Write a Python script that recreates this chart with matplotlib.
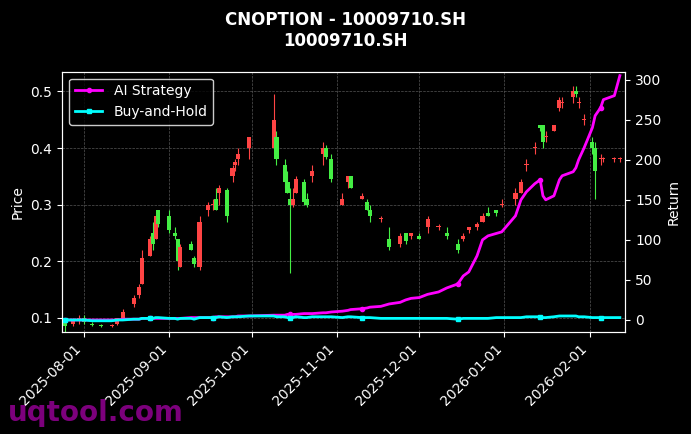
import matplotlib
matplotlib.use("Agg")
import matplotlib.pyplot as plt
import matplotlib.dates as mdates
import pandas as pd

dates = ["2025-07-25","2025-07-28","2025-07-30","2025-08-01","2025-08-04","2025-08-07","2025-08-11","2025-08-13","2025-08-15","2025-08-19","2025-08-21","2025-08-22","2025-08-25","2025-08-26","2025-08-27","2025-08-28","2025-09-01","2025-09-03","2025-09-04","2025-09-05","2025-09-09","2025-09-10","2025-09-12","2025-09-15","2025-09-17","2025-09-18","2025-09-19","2025-09-22","2025-09-24","2025-09-25","2025-09-26","2025-09-30","2025-10-09","2025-10-10","2025-10-13","2025-10-14","2025-10-15","2025-10-16","2025-10-17","2025-10-20","2025-10-21","2025-10-23","2025-10-27","2025-10-28","2025-10-30","2025-11-03","2025-11-05","2025-11-06","2025-11-10","2025-11-12","2025-11-13","2025-11-17","2025-11-20","2025-11-24","2025-11-26","2025-11-28","2025-12-01","2025-12-04","2025-12-08","2025-12-11","2025-12-15","2025-12-17","2025-12-19","2025-12-22","2025-12-24","2025-12-26","2025-12-29","2025-12-31","2026-01-05","2026-01-07","2026-01-09","2026-01-12","2026-01-14","2026-01-15","2026-01-16","2026-01-19","2026-01-21","2026-01-22","2026-01-26","2026-01-27","2026-01-28","2026-01-30","2026-02-02","2026-02-03","2026-02-05","2026-02-06","2026-02-10","2026-02-12"]
opens = [0.095,0.09,0.095,0.10,0.09,0.088,0.086,0.09,0.10,0.125,0.14,0.16,0.21,0.25,0.24,0.29,0.28,0.25,0.24,0.19,0.23,0.205,0.19,0.29,0.30,0.31,0.32,0.325,0.35,0.37,0.38,0.40,0.40,0.42,0.37,0.34,0.31,0.30,0.32,0.34,0.31,0.35,0.39,0.40,0.38,0.30,0.34,0.35,0.31,0.305,0.29,0.275,0.24,0.23,0.25,0.245,0.245,0.26,0.26,0.25,0.23,0.24,0.255,0.26,0.27,0.285,0.29,0.30,0.31,0.32,0.37,0.40,0.44,0.44,0.42,0.43,0.47,0.48,0.49,0.50,0.48,0.45,0.41,0.40,0.38,0.38,0.38,0.38]
highs = [0.10,0.10,0.105,0.105,0.092,0.09,0.09,0.10,0.115,0.14,0.16,0.22,0.245,0.27,0.285,0.29,0.29,0.26,0.24,0.23,0.235,0.21,0.28,0.305,0.31,0.33,0.335,0.33,0.37,0.38,0.40,0.42,0.495,0.43,0.38,0.36,0.33,0.33,0.35,0.345,0.32,0.37,0.41,0.405,0.39,0.32,0.35,0.35,0.32,0.31,0.30,0.28,0.26,0.25,0.25,0.25,0.25,0.28,0.265,0.26,0.24,0.25,0.26,0.27,0.285,0.295,0.29,0.31,0.33,0.345,0.38,0.41,0.44,0.44,0.43,0.44,0.49,0.49,0.51,0.51,0.49,0.46,0.42,0.41,0.39,0.385,0.385,0.385]
lows = [0.075,0.085,0.09,0.09,0.085,0.083,0.084,0.088,0.10,0.12,0.135,0.16,0.21,0.22,0.24,0.26,0.25,0.24,0.185,0.19,0.22,0.19,0.185,0.28,0.29,0.29,0.30,0.27,0.34,0.36,0.37,0.38,0.39,0.37,0.33,0.32,0.18,0.295,0.32,0.30,0.295,0.34,0.37,0.38,0.34,0.30,0.33,0.33,0.31,0.29,0.27,0.27,0.22,0.225,0.23,0.24,0.24,0.25,0.255,0.24,0.215,0.235,0.25,0.255,0.27,0.28,0.28,0.295,0.30,0.32,0.36,0.39,0.43,0.40,0.41,0.43,0.465,0.47,0.48,0.49,0.47,0.44,0.39,0.31,0.37,0.375,0.375,0.375]
closes = [0.085,0.095,0.10,0.092,0.088,0.085,0.088,0.10,0.11,0.135,0.155,0.205,0.24,0.23,0.28,0.265,0.255,0.245,0.20,0.225,0.22,0.195,0.27,0.30,0.30,0.29,0.33,0.28,0.365,0.375,0.39,0.42,0.45,0.38,0.34,0.32,0.30,0.31,0.345,0.305,0.30,0.36,0.40,0.385,0.345,0.31,0.35,0.33,0.315,0.29,0.28,0.275,0.225,0.245,0.235,0.25,0.24,0.275,0.26,0.245,0.22,0.245,0.26,0.265,0.28,0.28,0.285,0.30,0.32,0.34,0.37,0.40,0.435,0.41,0.42,0.44,0.485,0.48,0.50,0.495,0.48,0.45,0.40,0.36,0.38,0.38,0.38,0.38]
ai_ret = [0,0,0,0,0,0,0,0,1,1,1,2,2,2,2,2,2,2,2,2,3,3,3,3,3,4,4,4,4,4,5,5,6,6,6,7,7,7,7,8,8,8,9,9,10,11,12,13,14,15,16,17,20,22,25,27,28,32,35,40,45,55,60,80,100,105,108,110,130,150,160,170,175,155,150,155,175,180,185,190,200,215,240,255,265,275,280,305]
bh_ret = [0,0,0,0,-1,-1,-1,0,0,1,1,2,2,2,3,3,2,2,1,2,2,1,3,3,3,3,4,3,4,4,4,5,5,4,4,3,3,3,4,3,3,4,4,4,4,3,4,4,3,3,3,2,2,2,2,2,2,2,2,2,1,2,2,2,2,2,3,3,3,3,4,4,4,3,3,4,5,5,5,5,4,4,3,3,3,3,3,3]

d = pd.to_datetime(dates)
x = mdates.date2num(d)

fig, ax = plt.subplots(figsize=(6.91, 4.34), dpi=100)
fig.patch.set_facecolor("black")
ax.set_facecolor("black")
up, dn = "#ff4444", "#44ee44"
for xi, o, h, l, c in zip(x, opens, highs, lows, closes):
    col = up if c >= o else dn
    ax.vlines(xi, l, h, color=col, lw=0.8, zorder=2)
    ax.bar(xi, max(abs(c - o), 0.002), bottom=min(o, c), width=1.5, color=col, zorder=3)
ax.set_ylim(0.075, 0.535)
ax.set_ylabel("Price", color="white")
ax.grid(True, color="#555555", ls="--", lw=0.5)
ax.set_xlim(mdates.date2num(pd.Timestamp("2025-07-24")), mdates.date2num(pd.Timestamp("2026-02-14")))
ax.xaxis.set_major_locator(mdates.MonthLocator())
ax.xaxis.set_major_formatter(mdates.DateFormatter("%Y-%m-%d"))
plt.setp(ax.get_xticklabels(), rotation=45, ha="right")

ax2 = ax.twinx()
ax2.plot(d, ai_ret, color="#ff00ff", lw=2, marker="o", ms=3, markevery=12, label="AI Strategy")
ax2.plot(d, bh_ret, color="#00ffff", lw=2, marker="s", ms=3, markevery=12, label="Buy-and-Hold")
ax2.set_ylim(-15, 310)
ax2.set_ylabel("Return", color="white")
for a in (ax, ax2):
    a.tick_params(colors="white")
    for s in a.spines.values():
        s.set_color("white")
leg = ax2.legend(loc="upper left", facecolor="black", edgecolor="white")
for t in leg.get_texts():
    t.set_color("white")
fig.suptitle("CNOPTION - 10009710.SH\n10009710.SH", color="white", fontweight="bold", fontsize=12, y=0.975)
fig.subplots_adjust(left=0.09, right=0.905, top=0.835, bottom=0.235)
fig.text(0.012, 0.03, "uqtool.com", color="#8b008b", fontsize=20, fontweight="bold", alpha=0.9)
fig.savefig("out.png", facecolor="black")
